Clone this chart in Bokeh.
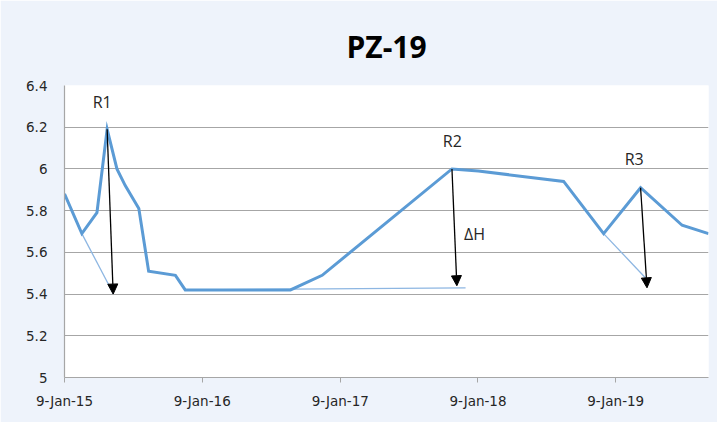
import pandas as pd
from bokeh.plotting import figure
from bokeh.models import (ColumnDataSource, FixedTicker, Arrow, NormalHead, Range1d,
                          DatetimeTickFormatter)
from bokeh.core.properties import value
from bokeh.embed import file_html
from bokeh.resources import INLINE

# ---------------- data ----------------
dates = ["2015-01-09", "2015-02-24", "2015-04-05", "2015-05-02", "2015-05-28",
         "2015-06-19", "2015-07-25", "2015-08-20", "2015-10-30", "2015-11-25",
         "2016-08-30", "2016-11-22", "2017-11-01", "2018-01-10", "2018-08-24",
         "2018-12-08", "2019-03-16", "2019-07-04", "2019-09-12"]
levels = [5.88, 5.69, 5.79, 6.19, 6.00, 5.92, 5.81, 5.51, 5.49, 5.42,
          5.42, 5.49, 6.00, 5.99, 5.94, 5.69, 5.91, 5.73, 5.69]

rec1_dates = ["2015-02-24", "2015-05-19"]
rec1_levels = [5.69, 5.40]
rec2_dates = ["2015-11-25", "2017-12-07"]
rec2_levels = [5.42, 5.43]
rec3_dates = ["2018-12-08", "2019-04-02"]
rec3_levels = [5.69, 5.47]

arrow_start_dates = ["2015-05-02", "2017-11-01", "2019-03-16"]
arrow_start_levels = [6.19, 6.00, 5.91]
arrow_end_dates = ["2015-05-18", "2017-11-14", "2019-04-02"]
arrow_end_levels = [5.40, 5.44, 5.43]

label_texts = ["R1", "R2", "R3", "ΔH"]
label_dates = ["2015-04-19", "2017-11-02", "2019-02-27", "2017-12-31"]
label_levels = [6.32, 6.135, 6.046, 5.69]

x_tick_dates = ["2015-01-09", "2016-01-09", "2017-01-09", "2018-01-09", "2019-01-09"]
x_tick_labels = ["9-Jan-15", "9-Jan-16", "9-Jan-17", "9-Jan-18", "9-Jan-19"]
y_ticks = [5.0, 5.2, 5.4, 5.6, 5.8, 6.0, 6.2, 6.4]
y_tick_labels = ["5", "5.2", "5.4", "5.6", "5.8", "6", "6.2", "6.4"]

x_start = "2015-01-09"
x_end = "2019-09-12"


def ms(d):
    return int(pd.Timestamp(d).value // 10**6)


def dt(lst):
    return pd.to_datetime(lst)


BLUE = "#5B9BD5"
THIN = "#8DB6E2"
BG = "#EEF3FB"
TXT = "#262626"
GRID = "#A6A6A6"

p = figure(width=717, height=422, x_axis_type="datetime",
           x_range=Range1d(pd.Timestamp(x_start), pd.Timestamp(x_end)),
           y_range=Range1d(5.0, 6.4),
           output_backend="svg", toolbar_location=None,
           min_border_left=64, min_border_right=9, min_border_top=85, min_border_bottom=45)

p.border_fill_color = BG
p.background_fill_color = "white"
p.outline_line_color = None

p.title.text = "PZ-19"
p.title.align = "center"
p.title.text_font = "Open Sans"
p.title.text_font_style = "bold"
p.title.text_font_size = "30px"
p.title.text_color = "black"
p.title.standoff = 38

# grid
p.xgrid.grid_line_color = None
p.ygrid.grid_line_color = GRID
p.ygrid.grid_line_width = 1.2
p.ygrid.ticker = FixedTicker(ticks=y_ticks)

# y axis
p.yaxis.ticker = FixedTicker(ticks=y_ticks)
p.yaxis.major_label_overrides = {t: l for t, l in zip(y_ticks, y_tick_labels)}
p.yaxis.major_tick_out = 0
p.yaxis.major_tick_in = 0
p.yaxis.minor_tick_out = 0
p.yaxis.minor_tick_in = 0
p.yaxis.major_label_standoff = 17
p.yaxis.axis_line_color = GRID
p.yaxis.axis_line_width = 1.2

# x axis
xt = [ms(d) for d in x_tick_dates]
p.xaxis.ticker = FixedTicker(ticks=xt)
p.xaxis.formatter = DatetimeTickFormatter(days="%d-%b-%y", months="%d-%b-%y", years="%d-%b-%y")
p.xaxis.major_label_overrides = {t: l for t, l in zip(xt, x_tick_labels)}
p.xaxis.major_tick_out = 5
p.xaxis.major_tick_in = 0
p.xaxis.minor_tick_out = 0
p.xaxis.minor_tick_in = 0
p.xaxis.major_tick_line_color = GRID
p.xaxis.axis_line_color = GRID
p.xaxis.axis_line_width = 1.2
p.xaxis.major_label_standoff = 10

for ax in (p.xaxis, p.yaxis):
    ax.major_label_text_font = "DejaVu Sans"
    ax.major_label_text_font_size = "13.5px"
    ax.major_label_text_color = TXT

# thin recession lines
for d, l in ((rec1_dates, rec1_levels), (rec2_dates, rec2_levels), (rec3_dates, rec3_levels)):
    p.line(dt(d), l, line_color=THIN, line_width=1.3)

# main line
p.line(dt(dates), levels, line_color=BLUE, line_width=3, line_join="miter")

# arrows
asrc = ColumnDataSource(dict(x0=dt(arrow_start_dates), y0=arrow_start_levels,
                             x1=dt(arrow_end_dates), y1=arrow_end_levels))
p.add_layout(Arrow(x_start="x0", y_start="y0", x_end="x1", y_end="y1", source=asrc,
                   line_color="black", line_width=1.3,
                   end=NormalHead(size=10, fill_color="black", line_color="black", line_width=1)))

# labels
lsrc = ColumnDataSource(dict(x=dt(label_dates), y=label_levels, t=label_texts))
p.text(x="x", y="y", text="t", source=lsrc, text_align="center", text_baseline="middle",
       text_font=value("Open Sans"), text_font_size="16px", text_color=TXT)

open("out.html", "w").write(file_html(p, INLINE))
